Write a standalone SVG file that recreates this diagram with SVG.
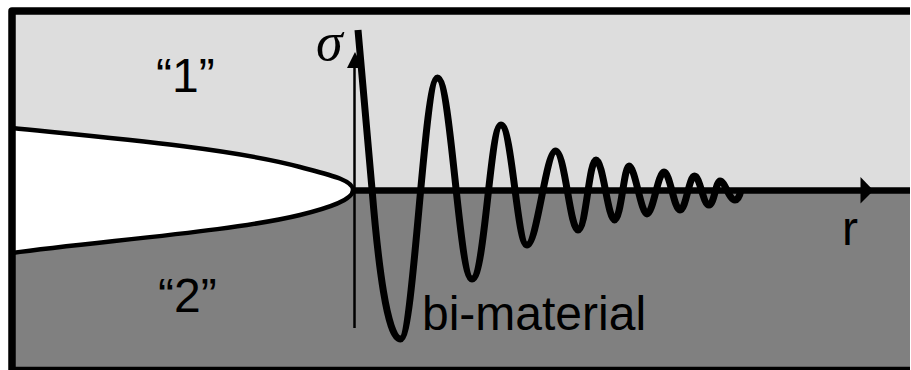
<svg xmlns="http://www.w3.org/2000/svg" width="911" height="370" viewBox="0 0 911 370">
<style>
.t{font-family:"Liberation Sans",Arial,sans-serif;font-size:48px;fill:#000}
.l{fill:none;stroke:#000;stroke-linejoin:round}
</style>
<rect x="0" y="0" width="911" height="370" fill="#fff"/>
<g id="materials">
<rect id="material-1" x="12" y="11" width="898" height="179.500" fill="#ddd"/>
<rect id="material-2" x="12" y="190.500" width="898" height="179.500" fill="#808080"/>
</g>
<g id="crack">
<path d="M12 128 C100 137 230 148 300 167 C330 175 353 180 353 190 C353 200 328 208 300 215 C235 231 100 241 12 253Z" fill="#fff"/>
<path class="l" stroke-width="4.500" d="M12 128 C100 137 230 148 300 167 C330 175 353 180 353 190 C353 200 328 208 300 215 C235 231 100 241 12 253"/>
</g>
<g id="frame">
<path class="l" stroke-width="7.500" d="M910 11H12V370.500H910"/>
</g>
<g id="connectors">
<path class="l" stroke-width="2.500" d="M354.500 62V328"/>
<polygon points="355,52 363,68 347,68" fill="#000"/>
<path class="l" stroke-width="6.500" d="M354 190.500H910"/>
<polygon points="873.500,190.500 860.500,177 860.500,203.500" fill="#000"/>
<path class="l" stroke-width="7" stroke-linecap="butt" d="M358 30 L372 189 C378 262 387 339 400.500 339 C414 339 424 78 437.500 78 C451 78 459 279 472 279 C485 279 490 125 501 125 C512 125 517 245 527 245 C537 245 546 151 555.500 151 C565 151 570 230 578 230 C586 230 589 160 596 160 C603 160 608 220 614.500 220 C621 220 624 166 629 166 C635 166 641 214 647 214 C653 214 658 172 664 172 C670 172 674 210 680 210 C686 210 689 176 694.500 176 C700 176 703 205 709 205 C714 205 716 181 720 181 C725 181 729 200 735 200 C738 200 740 195 741 190"/>
</g>
<g id="labels">
<text class="t" x="156" y="92">“1”</text>
<text class="t" x="158" y="312">“2”</text>
<text class="t" x="422" y="330">bi-material</text>
<text class="t" x="842" y="245">r</text>
<text x="316" y="60" style="font-family:'Liberation Serif','DejaVu Serif',serif;font-style:italic;font-size:54px">σ</text>
</g>
</svg>
